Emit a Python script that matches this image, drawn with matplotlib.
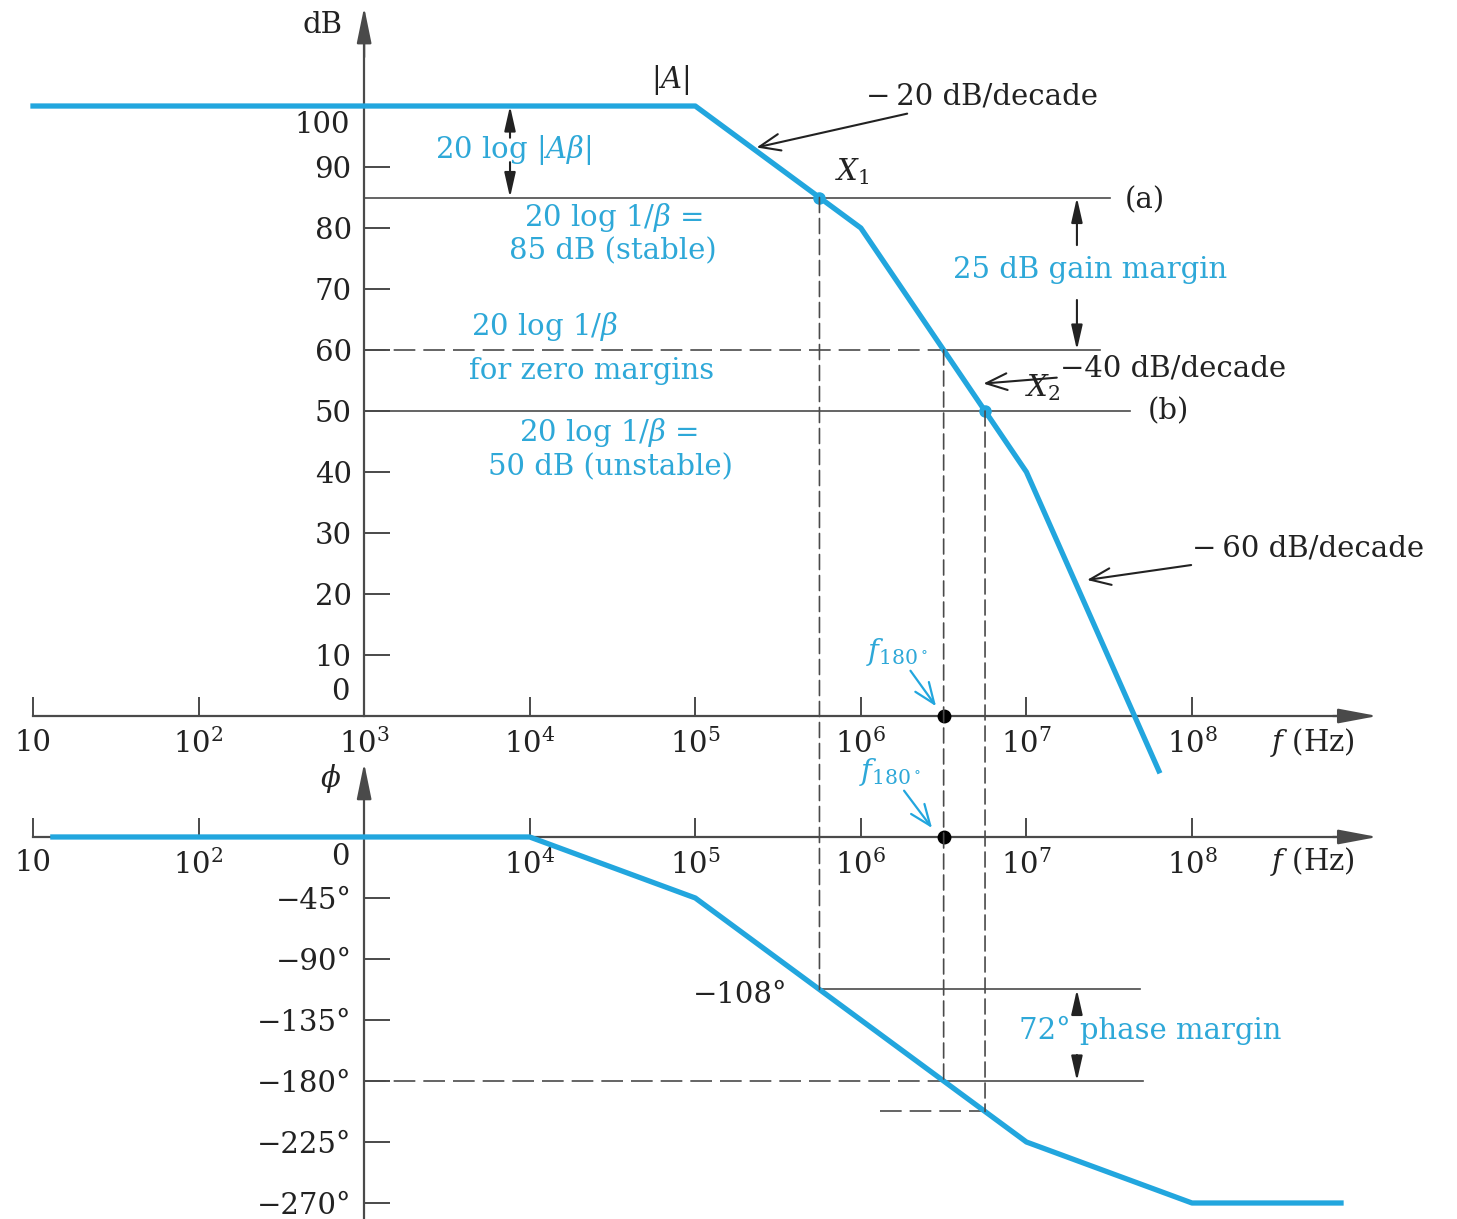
import numpy as np
import matplotlib
matplotlib.use('Agg')
import matplotlib.pyplot as plt
from matplotlib.patches import ConnectionPatch
from matplotlib.ticker import NullLocator

plt.rcParams['font.family'] = ['DejaVu Serif']
plt.rcParams['mathtext.fontset'] = 'dejavuserif'

# asymptotic Bode plot of the amplifier
decades = [1e1, 1e2, 1e3, 1e4, 1e5, 1e6, 1e7, 1e8]
top_labels = ['10', '$10^2$', '$10^3$', '$10^4$', '$10^5$', '$10^6$', '$10^7$', '$10^8$']
bottom_labels = ['10', '$10^2$', '', '$10^4$', '$10^5$', '$10^6$', '$10^7$', '$10^8$']

mag_freq = [1e1, 1e5, 1e6, 1e7, 10**7.8]
mag_db = [100, 100, 80, 40, -9]

phase_freq = [10**1.12, 1e4, 1e5, 1e7, 1e8, 10**8.9]
phase_deg = [0, 0, -45, -225, -270, -270]

db_ticks = [10, 20, 30, 40, 50, 60, 70, 80, 90]
phase_ticks = [-45, -90, -135, -180, -225, -270]
phase_tick_labels = ['\u221245°', '\u221290°', '\u2212135°', '\u2212180°', '\u2212225°', '\u2212270°']

beta_stable = 85     # (a)
beta_zero = 60       # zero margins
beta_unstable = 50   # (b)

GRAY = '#4a4a4a'
BLUE = '#22a6de'
TBLUE = '#2ea8d8'
BLACK = '#222222'
FS = 21

logf_mag = np.log10(mag_freq)
logf_ph = np.log10(phase_freq)


def cross_freq(db):
    return 10 ** np.interp(db, mag_db[::-1], logf_mag[::-1])


def phase_at(f):
    return np.interp(np.log10(f), logf_ph, phase_deg)


f_x1 = cross_freq(beta_stable)
f_180 = cross_freq(beta_zero)
f_x2 = cross_freq(beta_unstable)

fig = plt.figure(figsize=(14.57, 12.19), dpi=100)
ax = fig.add_axes([0, 0, 1, 1])
axp = fig.add_axes([0, 0, 1, 1])
ax.set_ylim(-82.46, 117.38)
axp.set_ylim(-281.8, 617.4)

for a, xl in ((ax, top_labels), (axp, bottom_labels)):
    a.set_xscale('log')
    a.set_xlim(10**0.8007, 10**9.6005)
    a.patch.set_visible(False)
    a.spines['top'].set_visible(False)
    a.spines['right'].set_visible(False)
    a.spines['left'].set_position(('data', 1e3))
    a.spines['bottom'].set_position(('data', 0))
    a.spines['bottom'].set_bounds(10, 10**8.9)
    for s in ('left', 'bottom'):
        a.spines[s].set_color(GRAY)
        a.spines[s].set_linewidth(1.6)
    a.set_xticks(decades)
    a.set_xticklabels(xl)
    a.xaxis.set_minor_locator(NullLocator())
    a.tick_params(direction='in', width=1.4, color=GRAY, labelcolor=BLACK, labelsize=FS)
    a.tick_params(axis='x', length=14, pad=9)
    a.tick_params(axis='y', length=19, pad=9)
    a.annotate('', xy=(10**9.12, 0), xytext=(10**8.85, 0),
               arrowprops=dict(arrowstyle='-|>,head_length=2.4,head_width=0.45',
                               color=GRAY, lw=1.6, shrinkA=0, shrinkB=0))

ax.spines['left'].set_bounds(0, 110)
ax.set_yticks(db_ticks)
ax.set_yticklabels([str(v) for v in db_ticks])
ax.annotate('', xy=(1e3, 116.2), xytext=(1e3, 108),
            arrowprops=dict(arrowstyle='-|>,head_length=2.2,head_width=0.45',
                            color=GRAY, lw=1.6, shrinkA=0, shrinkB=0))

axp.spines['left'].set_bounds(-282, 45)
axp.set_yticks(phase_ticks)
axp.set_yticklabels(phase_tick_labels)
axp.annotate('', xy=(1e3, 54.5), xytext=(1e3, 40),
             arrowprops=dict(arrowstyle='-|>,head_length=2.2,head_width=0.45',
                             color=GRAY, lw=1.6, shrinkA=0, shrinkB=0))

# curves
ax.plot(mag_freq, mag_db, color=BLUE, lw=3.8, zorder=6, clip_on=False)
axp.plot(phase_freq, phase_deg, color=BLUE, lw=3.8, zorder=6, clip_on=False)

# 1/beta lines
dash_h = (0, (13, 4.8))
dash_v = (0, (9, 3.6))
ax.plot([1e3, 10**7.505], [beta_stable] * 2, color=GRAY, lw=1.2)
ax.plot([1e3, f_180], [beta_zero] * 2, color=GRAY, lw=1.2, linestyle=dash_h)
ax.plot([f_180, 10**7.444], [beta_zero] * 2, color=GRAY, lw=1.2)
ax.plot([1e3, 10**7.625], [beta_unstable] * 2, color=GRAY, lw=1.2)

ph_x1 = phase_at(f_x1)
ph_180 = phase_at(f_180)
ph_x2 = phase_at(f_x2)
axp.plot([f_x1, 10**7.686], [ph_x1] * 2, color=GRAY, lw=1.2)
axp.plot([1e3, f_180], [ph_180] * 2, color=GRAY, lw=1.2, linestyle=dash_h)
axp.plot([f_180, 10**7.704], [ph_180] * 2, color=GRAY, lw=1.2)
axp.plot([10**6.116, f_x2], [ph_x2] * 2, color=GRAY, lw=1.2, linestyle=dash_h)

for f, db, ph in ((f_x1, beta_stable, ph_x1), (f_180, beta_zero, ph_180), (f_x2, beta_unstable, ph_x2)):
    con = ConnectionPatch(xyA=(f, db), coordsA=ax.transData, xyB=(f, ph), coordsB=axp.transData,
                          color=GRAY, lw=1.2, linestyle=dash_v)
    fig.add_artist(con)

ax.plot([f_x1, f_x2], [beta_stable, beta_unstable], 'o', color=BLUE, ms=8, zorder=7)
ax.plot([f_180], [0], 'o', color='black', ms=9, zorder=7, clip_on=False)
axp.plot([f_180], [0], 'o', color='black', ms=9, zorder=7, clip_on=False)

# margin arrows
marr = dict(arrowstyle='-|>,head_length=0.75,head_width=0.17', color=BLACK, lw=1.5,
            mutation_scale=20, shrinkA=0, shrinkB=0)
ax.annotate('', xy=(10**3.881, 100), xytext=(10**3.881, 94.8), arrowprops=marr)
ax.annotate('', xy=(10**3.881, beta_stable), xytext=(10**3.881, 90.8), arrowprops=marr)
ax.annotate('', xy=(10**7.305, beta_stable), xytext=(10**7.305, 77.2), arrowprops=marr)
ax.annotate('', xy=(10**7.305, beta_zero), xytext=(10**7.305, 68.2), arrowprops=marr)
axp.annotate('', xy=(10**7.305, ph_x1), xytext=(10**7.305, -129), arrowprops=marr)
axp.annotate('', xy=(10**7.305, ph_180), xytext=(10**7.305, -160.8), arrowprops=marr)

# slope annotations
sarr = dict(arrowstyle='->,head_length=0.75,head_width=0.3', color=BLACK, lw=1.5,
            mutation_scale=20, shrinkA=0, shrinkB=0)
ax.annotate('\u2212\u200920 dB/decade', xy=(10**5.37, 93.2), xytext=(10**6.03, 101.5),
            fontsize=FS, color=BLACK, va='center', arrowprops=sarr)
ax.annotate('\u221240 dB/decade', xy=(10**6.74, 54.5), xytext=(10**7.2, 57.0),
            fontsize=FS, color=BLACK, va='center', arrowprops=sarr)
ax.annotate('\u2212\u200960 dB/decade', xy=(10**7.366, 22.3), xytext=(10**8.0, 27.5),
            fontsize=FS, color=BLACK, va='center', arrowprops=sarr)

barr = dict(arrowstyle='->,head_length=0.75,head_width=0.3', color=BLUE, lw=1.6,
            mutation_scale=20, shrinkA=0, shrinkB=0)
ax.annotate(r'$f_{180^\circ}$', xy=(10**6.454, 1.6), xytext=(10**6.218, 10.5),
            fontsize=FS, color=TBLUE, ha='center', va='center', arrowprops=barr)
axp.annotate(r'$f_{180^\circ}$', xy=(10**6.43, 6.6), xytext=(10**6.176, 48),
             fontsize=FS, color=TBLUE, ha='center', va='center', arrowprops=barr)

# black labels
kw = dict(fontsize=FS, color=BLACK, va='center')
ax.text(10**2.87, 113.2, 'dB', ha='right', **kw)
ax.text(10**4.85, 104.3, r'|$A$|', ha='center', **kw)
ax.text(10**5.95, 89.2, r'$X_1$', ha='center', **kw)
ax.text(10**7.1, 53.8, r'$X_2$', ha='center', **kw)
ax.text(10**7.595, 84.6, '(a)', ha='left', **kw)
ax.text(10**7.734, 50, '(b)', ha='left', **kw)
ax.text(10**2.915, 96.9, '100', ha='right', **kw)
ax.text(10**2.915, 3.9, '0', ha='right', **kw)
ax.text(10**8.47, -4.3, r'$f$ (Hz)', ha='left', **kw)
axp.text(10**8.47, -18.4, r'$f$ (Hz)', ha='left', **kw)
axp.text(10**2.8, 43.5, r'$\phi$', ha='center', **kw)
axp.text(10**2.915, -14.8, '0', ha='right', **kw)
axp.text(10**5.554, -116.6, '\u2212108°', ha='right', **kw)

# blue labels
bk = dict(fontsize=FS, color=TBLUE, ha='center', va='center')
ax.text(10**3.899, 92.8, r'20 log |$A\beta$|', **bk)
ax.text(10**4.503, 81.8, r'20 log 1/$\beta$ =', **bk)
ax.text(10**4.503, 76.1, '85 dB (stable)', **bk)
ax.text(10**4.092, 63.9, r'20 log 1/$\beta$', **bk)
ax.text(10**4.376, 56.6, 'for zero margins', **bk)
ax.text(10**4.473, 46.4, r'20 log 1/$\beta$ =', **bk)
ax.text(10**4.485, 40.7, '50 dB (unstable)', **bk)
ax.text(10**7.384, 73.1, '25 dB gain margin', **bk)
axp.text(10**7.746, -142.4, '72° phase margin', **bk)

fig.savefig('out.png', dpi=100)
